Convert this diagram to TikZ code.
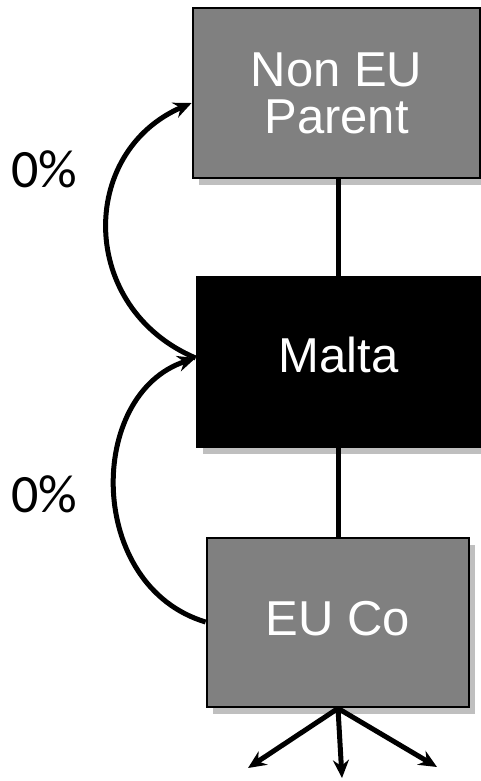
\documentclass[tikz,border=0pt]{standalone}
\usepackage{fontspec}
\setmainfont{Liberation Sans}
\newfontfamily\pctfont{Carlito}
\usetikzlibrary{shadows,arrows.meta}

\begin{document}
\begin{tikzpicture}[x=1pt,y=-1pt,
  box/.style={draw=black, line width=2.8pt, fill=black!50, text=white,
    font=\fontsize{49}{47}\selectfont, inner sep=0pt,
    drop shadow={shadow xshift=6pt, shadow yshift=-7pt, fill=black!25, opacity=1}},
  link/.style={line width=5pt},
  flow/.style={line width=5pt, -{Stealth[length=18pt,width=16pt,inset=6pt]}},
  pct/.style={font=\pctfont\fontsize{54}{60}\selectfont, anchor=base west, inner sep=0pt}]
\useasboundingbox (0,0) rectangle (481,781);

% company boxes
\node[box, minimum width=287pt, minimum height=170pt, align=center] (parent) at (336.5,93) {Non EU\\Parent};
\node[box, fill=black, minimum width=283pt, minimum height=170pt,
      text height=35pt, text depth=15pt] (malta) at (338.5,362) {Malta};
\node[box, minimum width=262pt, minimum height=169pt,
      text height=35pt, text depth=10pt] (euco) at (338,622.5) {EU Co};

% ownership chain
\coordinate (spine) at (338,0);
\draw[link] (parent.south -| spine) -- (malta.north -| spine);
\draw[link] (malta.south -| spine) -- (euco.north -| spine);

% dividend flows
\draw[flow] ([yshift=4pt]malta.west) .. controls (78,308) and (78,152) .. ([yshift=-10pt]parent.west);
\draw[flow] ([yshift=0.5pt]euco.west) .. controls (86,586) and (86,394) .. ([yshift=4pt]malta.west);

% withholding rates
\node[pct] (rateup) at (11,187) {0\%};
\node[pct] (ratedown) at (11,512) {0\%};

% subsidiaries below
\coordinate (outleft) at (248,768);
\coordinate (outmid) at (342,778);
\coordinate (outright) at (437,767);
\draw[flow] (euco.south -| spine) -- (outleft);
\draw[flow] (euco.south -| spine) -- (outmid);
\draw[flow] (euco.south -| spine) -- (outright);
\end{tikzpicture}
\end{document}
